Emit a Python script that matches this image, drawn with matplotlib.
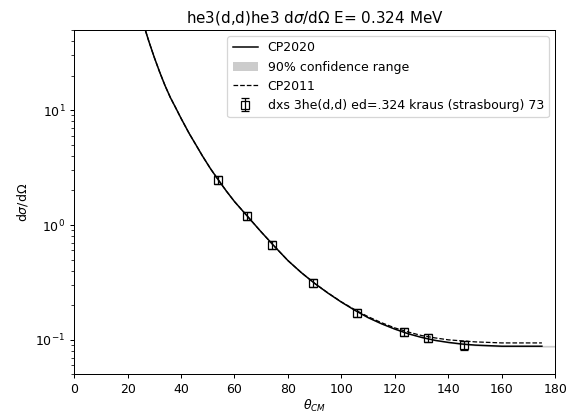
import numpy as np
import matplotlib
matplotlib.use("Agg")
import matplotlib.pyplot as plt

# CP2020 fit
theta = [26, 28, 30, 32, 34, 36, 38, 40, 43, 46, 48, 51, 54, 57, 60, 65, 70, 75, 80,
         85, 90, 95, 100, 105, 110, 115, 120, 125, 130, 135, 140, 145, 150, 155, 160,
         165, 170, 175]
cp2020 = [55.6, 39.5, 28.8, 21.5, 16.4, 12.9, 10.5, 8.5, 6.3, 4.8, 4.0, 3.1, 2.46,
          1.97, 1.60, 1.18, 0.87, 0.65, 0.49, 0.385, 0.31, 0.255, 0.213, 0.181,
          0.156, 0.138, 0.124, 0.113, 0.105, 0.099, 0.095, 0.092, 0.090, 0.089,
          0.088, 0.088, 0.088, 0.088]
cp2011 = [55.6, 39.5, 28.8, 21.5, 16.4, 12.9, 10.5, 8.5, 6.3, 4.8, 4.0, 3.1, 2.46,
          1.97, 1.60, 1.18, 0.87, 0.65, 0.49, 0.385, 0.31, 0.256, 0.214, 0.183,
          0.159, 0.141, 0.127, 0.117, 0.109, 0.104, 0.100, 0.098, 0.096, 0.095,
          0.094, 0.094, 0.094, 0.094]

# 90% confidence band (very narrow, hidden under the line except past 175 deg)
band_theta = theta + [180]
band_lo = [55.0, 39.1, 28.5, 21.3, 16.2, 12.8, 10.4, 8.42, 6.24, 4.75, 3.96, 3.07,
           2.44, 1.95, 1.585, 1.17, 0.862, 0.644, 0.486, 0.381, 0.307, 0.2525,
           0.211, 0.179, 0.1545, 0.1366, 0.1228, 0.1119, 0.104, 0.098, 0.0938,
           0.0907, 0.0886, 0.0875, 0.0865, 0.0865, 0.0865, 0.0865, 0.0865]
band_hi = [56.2, 39.9, 29.1, 21.7, 16.6, 13.0, 10.6, 8.58, 6.36, 4.85, 4.04, 3.13,
           2.48, 1.99, 1.615, 1.19, 0.878, 0.656, 0.494, 0.389, 0.313, 0.2575,
           0.215, 0.183, 0.1575, 0.1394, 0.1252, 0.1141, 0.106, 0.100, 0.0962,
           0.0933, 0.0914, 0.0905, 0.0895, 0.0895, 0.0895, 0.0895, 0.0895]

# kraus (strasbourg) 73
exp_theta = [54.0, 64.7, 74.0, 89.5, 106.0, 123.5, 132.5, 146.0]
exp_dxs = [2.48, 1.20, 0.67, 0.315, 0.172, 0.117, 0.104, 0.090]
exp_err = [0.20, 0.09, 0.05, 0.025, 0.013, 0.010, 0.008, 0.008]

DPI = 90.47
fig = plt.figure(figsize=(579 / DPI, 416 / DPI), dpi=DPI)
ax = fig.add_axes([0.128, 0.1, 0.831, 0.828])

ax.fill_between(band_theta, band_lo, band_hi, color="0.8", lw=0,
                label="90% confidence range")
ax.plot(theta, cp2020, "k-", lw=1.2, label="CP2020")
ax.plot(theta, cp2011, "k--", lw=1.0, label="CP2011")
ax.errorbar(exp_theta, exp_dxs, yerr=exp_err, fmt="s", mfc="none", mec="k",
            ecolor="k", ms=6, capsize=3, elinewidth=1,
            label="dxs 3he(d,d) ed=.324 kraus (strasbourg) 73")

ax.set_yscale("log")
ax.set_xlim(0, 180)
ax.set_ylim(0.05, 50)
ax.set_xlabel(r"$\theta_{CM}$", labelpad=1)
ax.set_ylabel(r"d$\sigma$/d$\Omega$")
ax.set_title(r"he3(d,d)he3 d$\sigma$/d$\Omega$ E= 0.324 MeV")

h, l = ax.get_legend_handles_labels()
order = [1, 0, 2, 3]
ax.legend([h[i] for i in order], [l[i] for i in order], loc="upper right")

fig.savefig("out.png", dpi=DPI)
